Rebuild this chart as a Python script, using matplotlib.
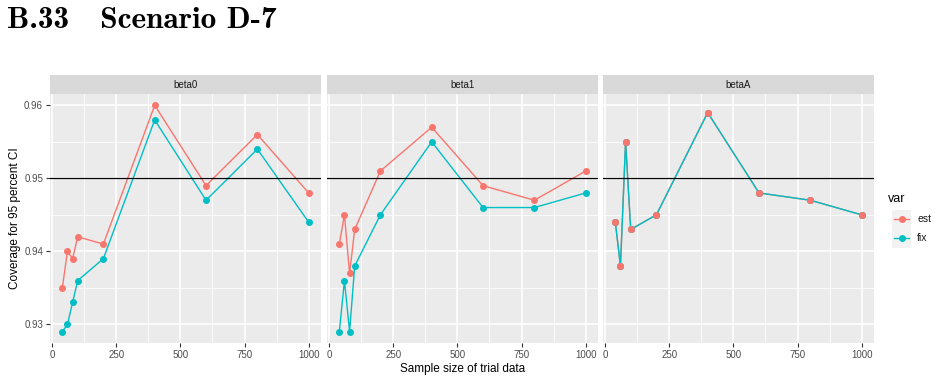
import numpy as np
import matplotlib.pyplot as plt
from matplotlib.lines import Line2D
from matplotlib.patches import Rectangle

plt.rcParams['font.family'] = ['Liberation Sans', 'DejaVu Sans']

# sample sizes
n = [40, 60, 80, 100, 200, 400, 600, 800, 1000]
panels = ["beta0", "beta1", "betaA"]
groups = ["est", "fix"]

# coverage values
beta0_est = [0.935, 0.940, 0.939, 0.942, 0.941, 0.960, 0.949, 0.956, 0.948]
beta0_fix = [0.929, 0.930, 0.933, 0.936, 0.939, 0.958, 0.947, 0.954, 0.944]
beta1_est = [0.941, 0.945, 0.937, 0.943, 0.951, 0.957, 0.949, 0.947, 0.951]
beta1_fix = [0.929, 0.936, 0.929, 0.938, 0.945, 0.955, 0.946, 0.946, 0.948]
betaA_est = [0.944, 0.938, 0.955, 0.943, 0.945, 0.959, 0.948, 0.947, 0.945]
betaA_fix = [0.944, 0.938, 0.955, 0.943, 0.945, 0.959, 0.948, 0.947, 0.945]

series = {
    "beta0": (beta0_est, beta0_fix),
    "beta1": (beta1_est, beta1_fix),
    "betaA": (betaA_est, betaA_fix),
}

col_est = "#F8766D"
col_fix = "#00BFC4"
W, H = 936, 382

fig = plt.figure(figsize=(W / 100, H / 100), dpi=100)

# title in a bold serif face (Computer Modern bold shipped with matplotlib)
fig.text(7 / W, 1 - 20 / H, "B.33   Scenario D-7", fontsize=22.5,
         family=["cmb10", "DejaVu Serif"], va="center", ha="left")

lefts = [50, 327, 603]
pw = 271
top, bottom = 94, 343
strip_h = 19

all_y = beta0_est + beta0_fix + beta1_est + beta1_fix + betaA_est + betaA_fix
ymin, ymax = min(all_y), max(all_y)
ypad = (ymax - ymin) * 0.05
xpad = (max(n) - min(n)) * 0.05

for i, (name, lft) in enumerate(zip(panels, lefts)):
    ax = fig.add_axes([lft / W, 1 - bottom / H, pw / W, (bottom - top) / H])
    ax.set_facecolor("#EBEBEB")
    for s in ax.spines.values():
        s.set_visible(False)
    ax.set_xlim(min(n) - xpad, max(n) + xpad)
    ax.set_ylim(ymin - ypad, ymax + ypad)
    ax.set_xticks([0, 250, 500, 750, 1000])
    ax.set_xticks([125, 375, 625, 875], minor=True)
    ax.set_yticks([0.93, 0.94, 0.95, 0.96])
    ax.set_yticks([0.935, 0.945, 0.955], minor=True)
    ax.grid(which="major", color="white", lw=1.1)
    ax.grid(which="minor", color="white", lw=0.55)
    ax.set_axisbelow(True)
    ax.tick_params(which="major", length=3, width=0.8, color="#333333",
                   labelsize=7, labelcolor="#4D4D4D", pad=2)
    ax.tick_params(which="minor", length=0)
    if i > 0:
        ax.tick_params(axis="y", labelleft=False, length=0)
    else:
        ax.set_ylabel("Coverage for 95 percent CI", fontsize=8.5, labelpad=2)
    if i == 1:
        ax.set_xlabel("Sample size of trial data", fontsize=8.5, labelpad=2)

    est, fix = series[name]
    ax.plot(n, est, color=col_est, lw=1.0, marker="o", ms=4, zorder=3)
    ax.plot(n, fix, color=col_fix, lw=1.0, marker="o", ms=4, zorder=4)
    if name == "betaA":
        # points of est are drawn on top in the original
        ax.plot(n, est, color=col_est, lw=0, marker="o", ms=4, zorder=5)
    ax.axhline(0.95, color="black", lw=0.9, zorder=6)

    # facet strip
    sax = fig.add_axes([lft / W, 1 - top / H, pw / W, strip_h / H])
    sax.set_facecolor("#D9D9D9")
    sax.set_xticks([])
    sax.set_yticks([])
    for s in sax.spines.values():
        s.set_visible(False)
    sax.text(0.5, 0.5, name, ha="center", va="center", fontsize=7,
             color="#1A1A1A", transform=sax.transAxes)

# legend drawn by hand, ggplot style
fig.text(888 / W, 1 - 199 / H, "var", fontsize=9, va="center", ha="left")
for k, (g, c) in enumerate(zip(groups, [col_est, col_fix])):
    yc = 219 + 19 * k
    fig.patches.append(Rectangle((892 / W, 1 - (yc + 9.5) / H), 19 / W, 19 / H,
                                 transform=fig.transFigure, facecolor="#F2F2F2",
                                 edgecolor="none"))
    fig.lines.append(Line2D([894 / W, 909 / W], [1 - yc / H, 1 - yc / H],
                            transform=fig.transFigure, color=c, lw=1.0))
    fig.lines.append(Line2D([901.5 / W], [1 - yc / H], transform=fig.transFigure,
                            color=c, marker="o", ms=4, lw=0))
    fig.text(917 / W, 1 - yc / H, g, fontsize=7.5, va="center", ha="left",
             color="#1A1A1A")

fig.savefig("out.png", dpi=100)
